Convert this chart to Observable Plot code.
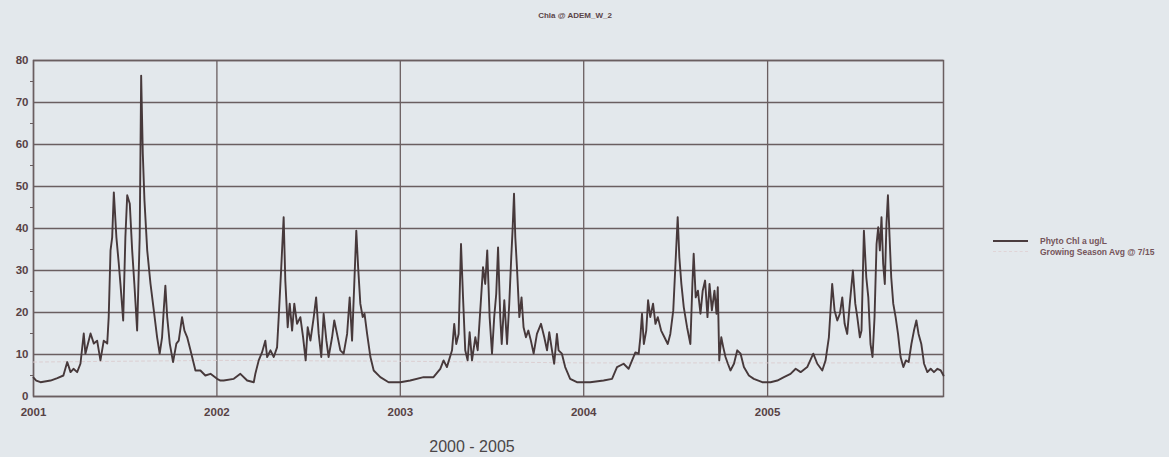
<!DOCTYPE html>
<html>
<head>
<meta charset="utf-8">
<script src="https://cdn.jsdelivr.net/npm/d3@7"></script>
<script src="https://cdn.jsdelivr.net/npm/@observablehq/plot@0.6"></script>
<style>
  html, body { margin: 0; padding: 0; }
  body { width: 1169px; height: 457px; background: #e3e8ec; position: relative; overflow: hidden; font-family: "Liberation Sans", Arial, sans-serif; }
  #chart { position: absolute; left: 0; top: 0; }
  #title { position: absolute; left: 0; width: 1150px; top: 11px; text-align: center; font: bold 8px "Liberation Sans Narrow", "Liberation Sans", sans-serif; color: #5a4448; }
  #caption { position: absolute; left: 372px; width: 200px; top: 438px; text-align: center; font: 16px "Liberation Sans", Arial, sans-serif; color: #4a4648; }
  #legend { position: absolute; left: 993px; top: 235px; font: bold 8.5px "Liberation Sans Narrow", "Liberation Sans", sans-serif; color: #74545a; }
  .row { display: flex; align-items: center; height: 11px; }
  .sw { width: 35px; height: 0; margin-right: 12px; }
</style>
</head>
<body>
<div id="title">Chla @ ADEM_W_2</div>
<div id="chart"></div>
<div id="legend">
  <div class="row"><span class="sw" style="border-top:2px solid #4a3c3e"></span><span>Phyto Chl a ug/L</span></div>
  <div class="row"><span class="sw" style="border-top:1px dashed #e0d4d7"></span><span>Growing Season Avg @ 7/15</span></div>
</div>
<div id="caption">2000 - 2005</div>
<script>
// Decimal year, chlorophyll a (ug/L)
const chlPoints = [
  [2001.000,4.5],[2001.015,3.8],[2001.038,3.4],[2001.093,3.8],[2001.130,4.4],[2001.163,5.0],[2001.184,8.2],[2001.202,5.8],[2001.218,6.6],[2001.238,5.8],[2001.256,7.8],[2001.274,15],[2001.283,10.2],[2001.311,15],[2001.329,12.6],[2001.347,13.3],[2001.365,8.6],[2001.383,13.3],[2001.402,12.6],[2001.410,18.9],[2001.420,34.8],[2001.429,37.9],[2001.438,48.6],[2001.452,37.9],[2001.465,31.6],[2001.474,26.8],[2001.489,18.1],[2001.501,37.9],[2001.511,47.9],[2001.525,45.9],[2001.538,34.8],[2001.550,26.8],[2001.565,15.7],[2001.579,37.9],[2001.587,76.4],[2001.596,57.8],[2001.605,46.7],[2001.620,34.8],[2001.638,26.8],[2001.656,20.5],[2001.674,14.1],[2001.688,10.2],[2001.701,14.1],[2001.710,20.5],[2001.719,26.4],[2001.729,18.9],[2001.743,12.6],[2001.761,8.2],[2001.779,12.6],[2001.792,13.3],[2001.810,18.9],[2001.823,15.7],[2001.838,14.1],[2001.856,11],[2001.883,6.2],[2001.910,6.2],[2001.937,5],[2001.965,5.4],[2002.001,4.2],[2002.019,3.8],[2002.037,3.8],
  [2002.092,4.2],[2002.128,5.4],[2002.165,3.8],[2002.201,3.4],[2002.210,5.5],[2002.228,8.6],[2002.246,10.5],[2002.264,13.3],[2002.274,9.4],[2002.292,11],[2002.310,9.4],[2002.328,11.7],[2002.337,18.9],[2002.350,30],[2002.364,42.7],[2002.373,27.6],[2002.386,16.5],[2002.397,22.1],[2002.410,15.7],[2002.422,22.1],[2002.437,17.3],[2002.455,18.9],[2002.470,14.1],[2002.484,8.6],[2002.495,16.5],[2002.510,13.3],[2002.528,18.9],[2002.541,23.6],[2002.555,14.9],[2002.569,9.4],[2002.582,19.7],[2002.597,13.3],[2002.609,9.4],[2002.628,14.1],[2002.640,18.1],[2002.655,14.9],[2002.673,11],[2002.691,10.2],[2002.710,14.9],[2002.724,23.6],[2002.737,13.3],[2002.749,26.8],[2002.760,39.5],[2002.770,30.8],[2002.782,22.1],[2002.795,18.9],[2002.805,19.7],[2002.819,14.9],[2002.837,9.4],[2002.855,6.2],[2002.891,4.6],[2002.936,3.4],[2003.000,3.4],
  [2003.054,3.8],[2003.127,4.6],[2003.181,4.6],[2003.218,6.6],[2003.236,8.6],[2003.254,7.0],[2003.282,11],[2003.294,17.3],[2003.305,12.5],[2003.318,14.9],[2003.331,36.3],[2003.342,23.6],[2003.354,11],[2003.367,8.6],[2003.378,15.3],[2003.391,8.6],[2003.409,14.1],[2003.422,11],[2003.436,20.5],[2003.451,30.8],[2003.463,26.8],[2003.474,34.8],[2003.487,18.9],[2003.500,10.2],[2003.512,18.9],[2003.523,24.4],[2003.533,35.5],[2003.545,18.9],[2003.553,12.5],[2003.567,22.9],[2003.582,12.5],[2003.594,22.1],[2003.605,33.2],[2003.612,39.5],[2003.620,48.3],[2003.627,37.9],[2003.636,30.8],[2003.649,18.9],[2003.661,23.6],[2003.672,16.5],[2003.685,14.1],[2003.698,15.7],[2003.712,13.3],[2003.727,10.2],[2003.745,14.9],[2003.767,17.3],[2003.785,14.1],[2003.800,11],[2003.812,15.3],[2003.827,11],[2003.839,7.8],[2003.854,14.9],[2003.863,11],[2003.881,10.2],[2003.899,7.0],[2003.926,4.2],[2003.963,3.4],[2004.017,3.4],
  [2004.035,3.4],[2004.108,3.8],[2004.154,4.2],[2004.181,7.0],[2004.217,7.8],[2004.244,6.6],[2004.263,8.6],[2004.281,10.5],[2004.299,10.2],[2004.308,14.1],[2004.317,19.7],[2004.327,12.5],[2004.340,15.7],[2004.350,22.9],[2004.362,18.9],[2004.377,22.1],[2004.390,17.3],[2004.403,18.9],[2004.421,15.7],[2004.439,14.1],[2004.457,12.5],[2004.471,14.9],[2004.487,20.5],[2004.499,31.6],[2004.511,42.7],[2004.520,33.2],[2004.531,26.8],[2004.544,21.3],[2004.562,16.5],[2004.580,12.5],[2004.591,26.8],[2004.598,34.0],[2004.609,23.6],[2004.621,25.2],[2004.635,19.7],[2004.647,25.2],[2004.660,27.6],[2004.673,18.9],[2004.684,26.8],[2004.697,20.5],[2004.711,25.2],[2004.722,19.7],[2004.729,26.0],[2004.737,8.6],[2004.748,14.1],[2004.759,11.7],[2004.771,9.4],[2004.784,7.8],[2004.798,6.2],[2004.817,7.8],[2004.835,11],[2004.853,10.2],[2004.871,7.0],[2004.898,5],[2004.925,4.2],[2004.971,3.4],[2005.016,3.4],
  [2005.053,3.8],[2005.089,4.6],[2005.125,5.4],[2005.153,6.6],[2005.180,5.8],[2005.216,7.0],[2005.249,10.2],[2005.271,7.8],[2005.298,6.2],[2005.316,8.6],[2005.334,14.1],[2005.343,20.5],[2005.352,26.8],[2005.365,20.5],[2005.380,18.1],[2005.394,19.7],[2005.407,23.6],[2005.420,17.3],[2005.434,14.9],[2005.448,22.1],[2005.465,30],[2005.478,22.1],[2005.489,18.9],[2005.503,14.1],[2005.512,15.7],[2005.525,39.5],[2005.538,28.4],[2005.549,23.6],[2005.561,12.5],[2005.572,9.4],[2005.583,18.9],[2005.594,36.3],[2005.603,40.3],[2005.612,34.8],[2005.621,42.7],[2005.630,31.6],[2005.639,26.8],[2005.648,41.1],[2005.656,47.9],[2005.665,37.9],[2005.674,28.4],[2005.685,22.1],[2005.698,18.9],[2005.711,14.9],[2005.725,9.4],[2005.740,7.0],[2005.754,8.6],[2005.769,8.2],[2005.784,12.5],[2005.798,15.7],[2005.811,18.1],[2005.823,14.9],[2005.838,12.5],[2005.853,7.8],[2005.871,5.8],[2005.889,6.6],[2005.907,5.8],[2005.926,6.6],[2005.944,6.2],[2005.959,5]
];
// Faint growing-season average reference line (decimal year, value)
const avgPoints = [[2001.0,8.2],[2002.0,8.6],[2003.0,8.4],[2004.0,8.0],[2005.0,8.0],[2005.959,8.0]];
const yearTicks = [2001, 2002, 2003, 2004, 2005];
const yTicks = [0, 10, 20, 30, 40, 50, 60, 70, 80];
const yMinorTicks = [5, 15, 25, 35, 45, 55, 65, 75];
const xStart = 2001.0, xEnd = 2005.959;

function toDate(t) {
  const y = Math.floor(t);
  const a = Date.UTC(y, 0, 1), b = Date.UTC(y + 1, 0, 1);
  return new Date(a + (t - y) * (b - a));
}
const series = chlPoints.map(([t, v]) => ({date: toDate(t), value: v}));
const avg = avgPoints.map(([t, v]) => ({date: toDate(t), value: v}));
const yearDates = yearTicks.map(y => toDate(y));
const gridCol = "#6a5e60";
const labelCol = "#574245";

const chart = Plot.plot({
  width: 1169,
  height: 457,
  marginLeft: 33,
  marginRight: 226,
  marginTop: 60,
  marginBottom: 61,
  style: {background: "transparent", fontFamily: "Liberation Sans, Arial, sans-serif"},
  x: {type: "utc", domain: [toDate(xStart), toDate(xEnd)]},
  y: {domain: [0, 80]},
  marks: [
    Plot.gridY(yTicks, {stroke: gridCol, strokeOpacity: 1, strokeWidth: 1.3}),
    Plot.gridX(yearDates, {stroke: gridCol, strokeOpacity: 1, strokeWidth: 1.3}),
    Plot.frame({stroke: gridCol, strokeWidth: 1.5}),
    Plot.axisY(yTicks, {tickSize: 0, tickPadding: 5, fontSize: 11.5, fontWeight: "bold", fill: labelCol, label: null}),
    Plot.axisY(yMinorTicks, {tickSize: 3, text: null, stroke: gridCol, label: null}),
    Plot.axisX(yearDates, {tickSize: 0, tickPadding: 11, tickFormat: d3.utcFormat("%Y"), fontSize: 11.5, fontWeight: "bold", fill: labelCol, label: null}),
    Plot.line(avg, {x: "date", y: "value", stroke: "#dccfd2", strokeWidth: 1, strokeDasharray: "3,3"}),
    Plot.line(series, {x: "date", y: "value", stroke: "#47393b", strokeWidth: 1.9, strokeLinejoin: "round"})
  ]
});
document.getElementById("chart").appendChild(chart);
</script>
</body>
</html>
